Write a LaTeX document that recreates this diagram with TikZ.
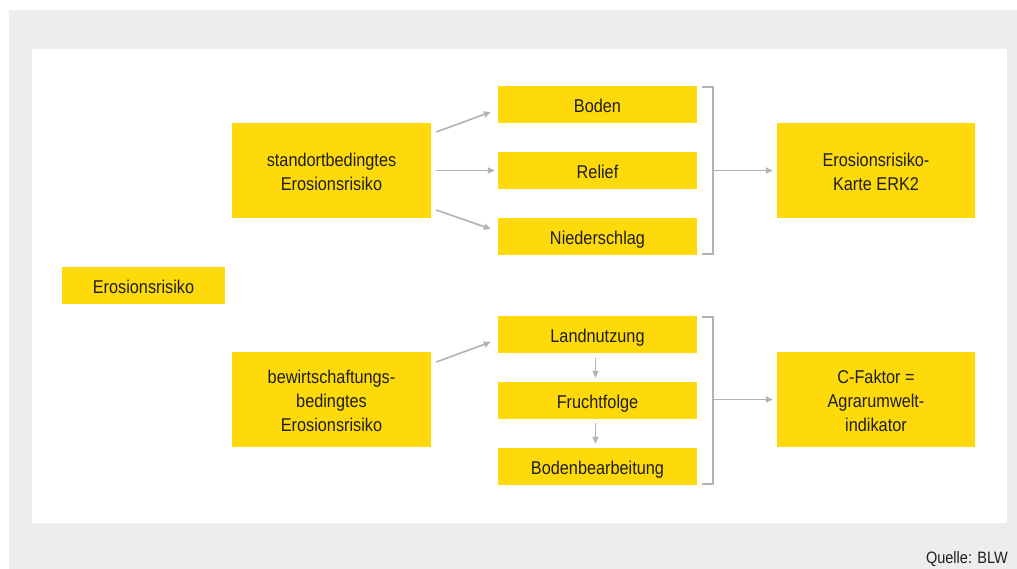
\documentclass[tikz,border=0pt]{standalone}
\usepackage{fontspec}
\setmainfont{Liberation Sans}[FakeStretch=0.88]
\usetikzlibrary{arrows.meta}
\definecolor{boxyellow}{RGB}{255,218,10}
\definecolor{linegrey}{RGB}{178,178,178}
\definecolor{bggrey}{RGB}{237,237,237}
\definecolor{textdark}{RGB}{30,30,30}
\tikzset{
  ybox/.style={fill=boxyellow, draw=none, inner sep=0pt, align=center,
    text=textdark, font=\fontsize{18.5}{24}\selectfont},
  oneline/.style={ybox, text height=16pt, text depth=0pt},
  twoline/.style={ybox, text height=45pt, text depth=4pt},
  threeline/.style={ybox, text height=67pt, text depth=4pt},
  conn/.style={draw=linegrey, line width=1.6pt,
    -{Triangle[length=7pt,width=6pt]}},
  brace/.style={draw=linegrey, line width=1.6pt}
}
\begin{document}
\begin{tikzpicture}[x=1pt,y=-1pt]
\useasboundingbox (0,0) rectangle (1017,569);
\fill[bggrey] (9,10) rectangle (1017,569);
\fill[white] (32,49) rectangle (1007,523);
% boxes
\node[oneline, minimum width=163pt, minimum height=37pt] (ero) at (143.5,285.5) {Erosionsrisiko};
\node[twoline, minimum width=199pt, minimum height=95pt] (stand) at (331.5,170.5) {standortbedingtes\\Erosionsrisiko};
\node[threeline, minimum width=199pt, minimum height=95pt] (bew) at (331.5,399.5) {bewirtschaftungs-\\bedingtes\\Erosionsrisiko};
\node[oneline, minimum width=199pt, minimum height=37pt] (boden) at (597.5,104.5) {Boden};
\node[oneline, minimum width=199pt, minimum height=37pt] (relief) at (597.5,170.5) {Relief};
\node[oneline, minimum width=199pt, minimum height=37pt] (nieder) at (597.5,236.5) {Niederschlag};
\node[oneline, minimum width=199pt, minimum height=37pt] (land) at (597.5,334.5) {Landnutzung};
\node[oneline, minimum width=199pt, minimum height=37pt] (frucht) at (597.5,400.5) {Fruchtfolge};
\node[oneline, minimum width=199pt, minimum height=37pt] (bb) at (597.5,466.5) {Bodenbearbeitung};
\node[twoline, minimum width=198pt, minimum height=95pt] (erk) at (876,170.5) {Erosionsrisiko-\\Karte ERK2};
\node[threeline, minimum width=198pt, minimum height=95pt] (cf) at (876,399.5) {C-Faktor =\\Agrarumwelt-\\indikator};
\node[anchor=base east, inner sep=0pt, text=textdark, font=\fontsize{16.5}{18}\selectfont] (src) at (1008,563) {Quelle: BLW};
% arrows
\draw[conn] ([shift={(5,-38.5)}]stand.east) -- ([shift={(-7,7.5)}]boden.west);
\draw[conn] ([shift={(5,0)}]stand.east) -- ([shift={(-3,0)}]relief.west);
\draw[conn] ([shift={(5,39.5)}]stand.east) -- ([shift={(-7,-7.5)}]nieder.west);
\draw[conn] ([shift={(5,-37.5)}]bew.east) -- ([shift={(-7,7.5)}]land.west);
\draw[conn] ([shift={(-2,5)}]land.south) -- ([shift={(-2,-4)}]frucht.north);
\draw[conn] ([shift={(-2,4)}]frucht.south) -- ([shift={(-2,-4)}]bb.north);
% brackets
\coordinate (b1t) at (713,87);
\coordinate (b1b) at (713,254);
\coordinate (b1m) at (713,170.5);
\draw[brace] ([xshift=5pt]boden.north east |- b1t) -- (b1t) -- (b1b) -- ([xshift=5pt]nieder.south east |- b1b);
\draw[conn] (b1m) -- ([xshift=-4pt]erk.west);
\coordinate (b2t) at (713,317);
\coordinate (b2b) at (713,484);
\coordinate (b2m) at (713,399.5);
\draw[brace] ([xshift=5pt]land.north east |- b2t) -- (b2t) -- (b2b) -- ([xshift=5pt]bb.south east |- b2b);
\draw[conn] (b2m) -- ([xshift=-4pt]cf.west);
\end{tikzpicture}
\end{document}
